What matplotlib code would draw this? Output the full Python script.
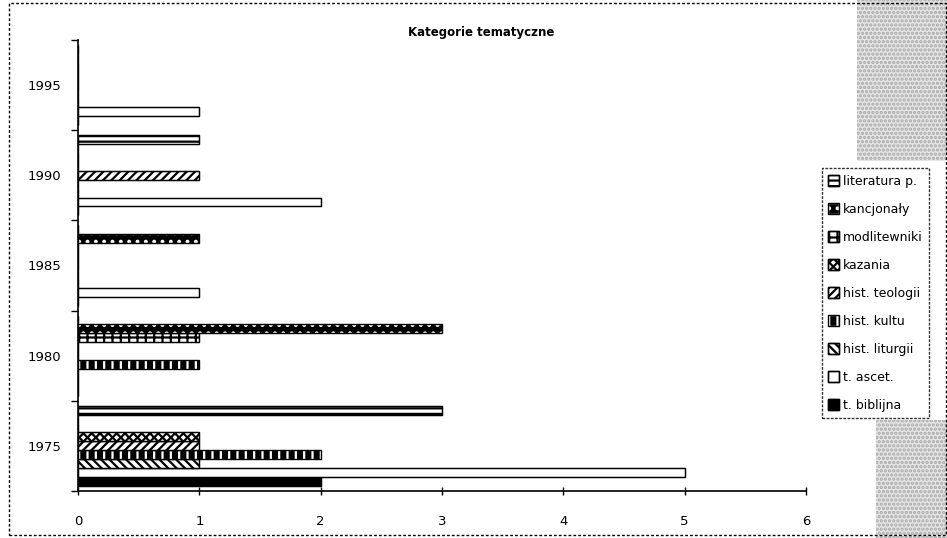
import matplotlib.pyplot as plt
from matplotlib.patches import Rectangle, Patch
from matplotlib.legend_handler import HandlerTuple
import numpy as np

# Kategorie tematyczne - clustered horizontal bars, scanned Excel chart look

years = ['1975', '1980', '1985', '1990', '1995']

# series in Excel order (first = bottom bar of each group)
series_names = ['t. biblijna', 't. ascet.', 'hist. liturgii', 'hist. kultu',
                'hist. teologii', 'kazania', 'modlitewniki', 'kancjonały',
                'literatura p.']
t_biblijna = [2, 0, 0, 0, 0]
t_ascet = [5, 0, 1, 2, 1]
hist_liturgii = [1, 0, 0, 0, 0]
hist_kultu = [2, 1, 0, 0, 0]
hist_teologii = [1, 0, 0, 1, 0]
kazania = [1, 0, 0, 0, 0]
modlitewniki = [0, 1, 0, 0, 0]
kancjonaly = [0, 3, 1, 0, 0]
literatura_p = [3, 0, 0, 1, 0]

values = [t_biblijna, t_ascet, hist_liturgii, hist_kultu, hist_teologii,
          kazania, modlitewniki, kancjonaly, literatura_p]

# (facecolor, hatch, hatch/edge colour)
styles = [
    ('black', None, 'black'),
    ('white', None, 'black'),
    ('white', '\\\\\\\\', 'black'),
    ('black', '||', 'white'),
    ('white', '////', 'black'),
    ('white', 'xxxx', 'black'),
    ('white', '++', 'black'),
    ('black', '..', 'white'),
    ('white', '---', 'black'),
]

plt.rcParams['hatch.linewidth'] = 1.6
plt.rcParams['font.family'] = ['DejaVu Sans']

fig = plt.figure(figsize=(9.47, 5.38), dpi=100)
ax = fig.add_axes([0.0824, 0.0874, 0.851 - 0.0824, 0.9257 - 0.0874])

n = len(values)
edge_gap = 0.055
h = (1 - 2 * edge_gap) / n
y = np.arange(len(years))

for i, vals in enumerate(values):
    fc, hatch, hc = styles[i]
    pos = y - 0.5 + edge_gap + (i + 0.5) * h
    ax.barh(pos, vals, height=h, color=fc, hatch=hatch, edgecolor=hc, linewidth=0.8)
    # black outline on top (pattern may be drawn in white)
    ax.barh(pos, vals, height=h, fill=False, edgecolor='black', linewidth=1.0)

ax.set_xlim(0, 6)
ax.set_ylim(-0.5, len(years) - 0.5)
ax.set_xticks(range(7))
ax.set_yticks(y)
ax.set_yticklabels(years)
ax.set_yticks(np.arange(-0.5, len(years), 1), minor=True)
ax.tick_params(axis='y', which='major', length=0, pad=12, labelsize=9.5)
ax.tick_params(axis='y', which='minor', length=5, direction='out', width=1)
ax.tick_params(axis='x', length=6, direction='inout', width=1, pad=14, labelsize=9.5)
for s in ['top', 'right']:
    ax.spines[s].set_visible(False)
ax.spines['left'].set_linewidth(1.2)
ax.spines['bottom'].set_linewidth(1.2)
ax.spines['bottom'].set_linestyle((0, (3, 1)))

fig.text(0.508, 0.94, 'Kategorie tematyczne', ha='center', va='center',
         fontsize=8.5, fontweight='bold')

# legend, listed top to bottom in reverse series order
handles = []
labels = []
for i in range(n - 1, -1, -1):
    fc, hatch, hc = styles[i]
    handles.append((Patch(facecolor=fc, hatch=hatch, edgecolor=hc),
                    Patch(fill=False, edgecolor='black')))
    labels.append(series_names[i])
leg = fig.legend(handles, labels, handler_map={tuple: HandlerTuple(ndivide=1)},
                 loc='center left', bbox_to_anchor=(0.868, 0.455),
                 fontsize=9, frameon=True, fancybox=False, handlelength=0.9,
                 handleheight=0.9, handletextpad=0.3, labelspacing=1.2,
                 borderpad=0.5, borderaxespad=0)
leg.get_frame().set_edgecolor('black')
leg.get_frame().set_linewidth(1.0)
leg.get_frame().set_linestyle((0, (2, 1)))

# scanner stipple on the right side
fig.patches.append(Rectangle((0.905, 0.70), 0.095, 0.30, transform=fig.transFigure,
                             facecolor='#e4e4e4', edgecolor='#aaaaaa', hatch='....',
                             linewidth=0, zorder=-1))
fig.patches.append(Rectangle((0.925, 0.0), 0.075, 0.22, transform=fig.transFigure,
                             facecolor='#e4e4e4', edgecolor='#aaaaaa', hatch='....',
                             linewidth=0, zorder=-1))

# outer dotted frame of the chart
fig.patches.append(Rectangle((0.009, 0.006), 0.99, 0.988, transform=fig.transFigure,
                             fill=False, edgecolor='black', linewidth=1.0,
                             linestyle=(0, (2, 1.5))))

fig.savefig('out.png', dpi=100)
